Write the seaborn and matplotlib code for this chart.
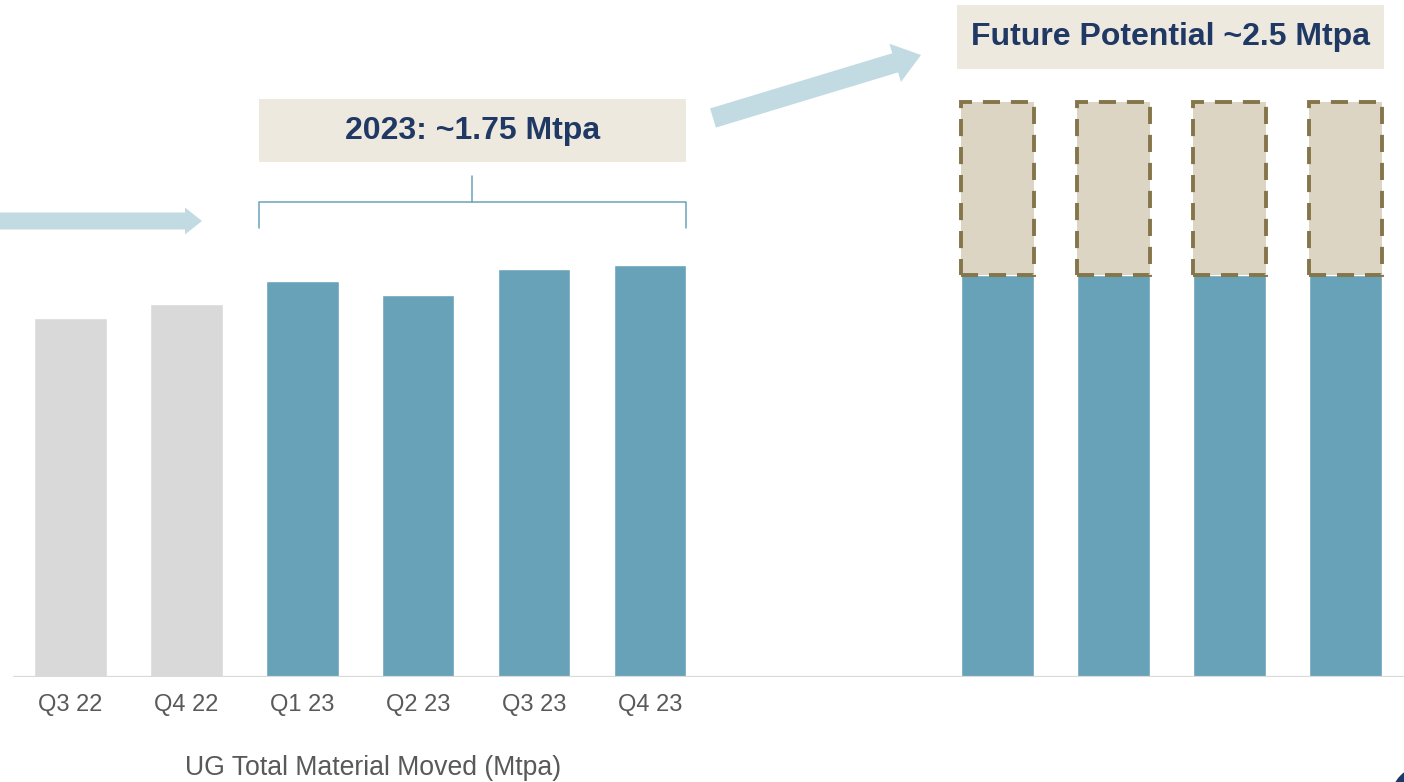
import numpy as np
import pandas as pd
import matplotlib
matplotlib.use("Agg")
import matplotlib.pyplot as plt
import matplotlib.patches as mpatches
import matplotlib.transforms as mtransforms
import seaborn as sns

# ---------------- data ----------------
quarters = ["Q3 22", "Q4 22", "Q1 23", "Q2 23", "Q3 23", "Q4 23"]
quarter_values = [1.56, 1.62, 1.72, 1.66, 1.775, 1.79]
quarter_period = ["2022", "2022", "2023", "2023", "2023", "2023"]
gap_slots = ["gap1", "gap2"]
future_slots = ["F1", "F2", "F3", "F4"]
future_base = [1.75, 1.75, 1.75, 1.75]
future_extra = [0.75, 0.75, 0.75, 0.75]
label_2023 = "2023: ~1.75 Mtpa"
label_future = "Future Potential ~2.5 Mtpa"
x_title = "UG Total Material Moved (Mtpa)"

# ---------------- style ----------------
W, H = 1404, 782
sns.set_theme(style="white")
plt.rcParams["font.family"] = ["Liberation Sans", "DejaVu Sans"]

GRAY = "#D9D9D9"
BLUE = "#67A2B9"
BEIGE = "#DDD5C3"
DASH = "#85754A"
BOX = "#EDE9DF"
NAVY = "#1F3864"
ARROW = "#C2DBE3"
TXT = "#595959"

fig = plt.figure(figsize=(W / 100, H / 100), dpi=100)
base_px = 677
scale = 230.0
ax = fig.add_axes([0, (H - base_px) / H, 1, base_px / H])

df = pd.DataFrame({
    "slot": quarters + future_slots,
    "value": quarter_values + future_base,
    "period": quarter_period + ["future"] * len(future_slots),
})
order = quarters + gap_slots + future_slots

sns.barplot(data=df, x="slot", y="value", hue="period", order=order,
            palette={"2022": GRAY, "2023": BLUE, "future": BLUE},
            width=0.625, dodge=False, legend=False, saturation=1,
            errorbar=None, ax=ax, zorder=2)

# future potential extension (stacked on top)
fpos = [order.index(s) for s in future_slots]
ax.bar(fpos, future_extra, bottom=future_base, width=0.625,
       facecolor=BEIGE, edgecolor=DASH, linewidth=2.8,
       linestyle=(0, (4.4, 2.8)), joinstyle="miter", zorder=3)

ax.set_xlim(-70.5 / 115.9, (W - 70.5) / 115.9)
ax.set_ylim(0, base_px / scale)
for s in ax.spines.values():
    s.set_visible(False)
ax.axhline(0, xmin=14 / W, xmax=1, color=GRAY, lw=1.6, zorder=4)
ax.set_yticks([])
ax.set_xticks(range(len(quarters)))
ax.set_xticklabels(quarters)
ax.tick_params(axis="x", length=0, pad=12.5, labelsize=17, labelcolor=TXT)
ax.set_xlabel("")
ax.set_ylabel("")

fig.text(373 / W, 1 - 768 / H, x_title, ha="center", va="center",
         fontsize=19.2, color=TXT)

# ---------------- annotations (pixel coords) ----------------
ident = mtransforms.IdentityTransform()

def P(x, y):
    return (x, H - y)

# text boxes
for (x0, y0, x1, y1, txt) in [(259, 99, 686, 162, label_2023),
                              (957, 5, 1384, 69, label_future)]:
    r = mpatches.Rectangle(P(x0, y1), x1 - x0, y1 - y0, transform=ident,
                           facecolor=BOX, edgecolor="none", zorder=5)
    fig.patches.append(r)
    fig.text((x0 + x1) / 2 / W, 1 - (y0 + y1) / 2 / H, txt, ha="center",
             va="center", fontsize=23, fontweight="bold", color=NAVY,
             zorder=6)

# bracket
br = dict(color="#6AA3B8", lw=1.1, transform=ident, zorder=5)
fig.add_artist(plt.Line2D([259, 259, 686, 686],
                          [H - 228, H - 202, H - 202, H - 228], **br))
fig.add_artist(plt.Line2D([472, 472], [H - 202, H - 176], **br))

# arrows
a1 = mpatches.FancyArrow(*P(-5, 221), 207, 0, width=17, head_width=27,
                         head_length=17, length_includes_head=True,
                         transform=ident, color=ARROW, lw=0, zorder=5)
fig.patches.append(a1)
tx, ty = P(713, 118)
hx, hy = P(921, 55)
a2 = mpatches.FancyArrow(tx, ty, hx - tx, hy - ty, width=20, head_width=40,
                         head_length=27, length_includes_head=True,
                         transform=ident, color=ARROW, lw=0, zorder=5)
fig.patches.append(a2)

# corner decoration
c = mpatches.Circle(P(1425, 800), 34, transform=ident, color=NAVY,
                    zorder=5, clip_on=False)
fig.patches.append(c)

fig.savefig("out.png", dpi=100)
